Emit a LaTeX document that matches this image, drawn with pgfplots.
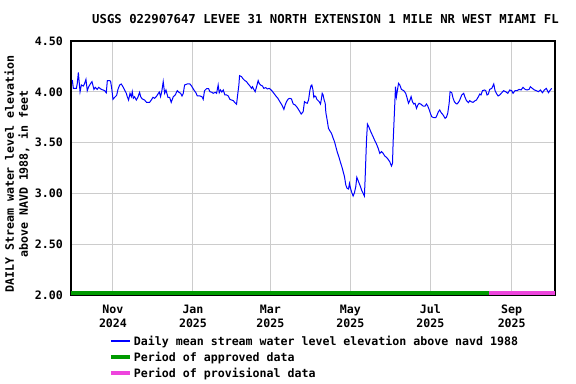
\documentclass[border=0pt]{standalone}
\usepackage{fontspec}
\setmainfont{DejaVu Sans Mono}
\usepackage{pgfplots}
\pgfplotsset{compat=1.18}
\definecolor{usgsgreen}{RGB}{0,154,0}
\definecolor{usgspink}{RGB}{238,68,221}
\definecolor{usgsblue}{RGB}{0,0,255}
\definecolor{gridgray}{RGB}{204,204,204}
\newcommand{\usgsfont}{\fontsize{11.6bp}{14bp}\selectfont\bfseries}
\newcommand{\titlefont}{\fontsize{12.3bp}{14bp}\selectfont\bfseries}
\pgfplotsset{
  barlegend/.style={legend image code/.code={\draw[##1, line width=4bp] (0bp,0bp) -- (19bp,0bp);}},
  linelegend/.style={legend image code/.code={\draw[##1, draw=usgsblue, line width=1.2bp] (0bp,0bp) -- (19bp,0bp);}},
}
\begin{document}
\begin{tikzpicture}
\path[use as bounding box] (0,0) rectangle (576bp,384bp);
\begin{axis}[
  at={(71bp,89bp)}, anchor=south west,
  scale only axis, width=484bp, height=254bp,
  xmin=-1, xmax=368, ymin=2, ymax=4.5,
  xtick={31,92,151,212,273,335},
  xticklabels={{Nov\\2024},{Jan\\2025},{Mar\\2025},{May\\2025},{Jul\\2025},{Sep\\2025}},
  ytick={2,2.5,3,3.5,4,4.5},
  /pgf/number format/fixed,
  /pgf/number format/fixed zerofill,
  /pgf/number format/precision=2,
  /pgf/number format/assume math mode=true,
  tick label style={font=\usgsfont, inner sep=0pt},
  xticklabel style={align=center, yshift=-9.75bp},
  yticklabel style={xshift=-8bp},
  major tick length=0pt,
  grid=major,
  grid style={gridgray, line width=1bp},
  axis line style={line width=1.2bp},
  legend cell align=left,
  legend style={at={(axis description cs:0.0785,-0.2441)}, anchor=west,
    draw=none, fill=none, inner sep=0pt, outer sep=0pt,
    row sep=7.5bp, column sep=2bp, font=\usgsfont,
    nodes={inner sep=0pt, text height=8.5bp, text depth=0pt}},
]
\addplot[color=usgsblue, line width=1bp, linelegend] coordinates {
(0,4.116) (0.8,4.034) (3.1,4.034) (3.8,4.083) (4.6,4.19) (5.9,4.00) (6.9,4.067)
(8.4,4.057) (9.4,4.083) (10.4,4.123) (11.4,4.011) (12.5,4.05) (14.0,4.083) (15.0,4.10)
(16.5,4.024) (17.5,4.044) (19.0,4.024) (20.1,4.044) (22.1,4.024) (23.4,4.018) (24.7,4.011)
(25.9,3.99) (26.7,4.11) (28.5,4.11) (29.2,4.103) (30.2,4.018) (31.0,3.926) (32.3,3.946)
(33.8,3.965) (34.8,4.024) (36.1,4.067) (37.3,4.077) (38.6,4.05) (39.9,4.018) (41.2,3.985)
(41.9,3.952) (42.9,3.919) (44.0,3.985) (45.0,3.952) (45.7,4.001) (46.5,3.936) (47.5,3.952)
(48.8,3.919) (50.0,3.946) (51.3,3.995) (52.1,3.952) (53.3,3.93) (55.1,3.919) (56.6,3.896)
(58.9,3.896) (60.2,3.919) (61.5,3.946) (62.7,3.936) (64.0,3.952) (65.3,3.978) (66.3,3.998)
(67.3,3.952) (68.3,4.011) (69.3,4.10) (70.4,3.985) (71.4,4.018) (72.9,3.946) (74.2,3.946)
(75.4,3.896) (77.0,3.952) (78.5,3.969) (80.0,4.011) (81.3,3.995) (82.6,3.985) (83.6,3.959)
(84.6,3.985) (85.6,4.067) (87.6,4.077)
(89.7,4.077) (90.9,4.057) (92.7,4.018) (94.2,3.991) (95.3,3.959) (97.3,3.959) (98.8,3.952)
(99.8,3.926) (100.8,4.011) (102.4,4.031) (103.9,4.031) (104.9,4.001) (106.4,3.995) (107.4,3.985)
(109.0,3.995) (110.0,3.985) (111.2,4.067) (112.0,3.991) (113.0,4.018) (114.0,3.998) (115.1,4.018)
(116.3,3.969) (117.6,3.969) (118.9,3.959) (120.1,3.926) (121.4,3.919) (122.7,3.913) (124.0,3.893)
(125.2,3.877) (126.2,3.985) (127.0,4.067) (127.5,4.159) (129.0,4.149) (130.3,4.126) (131.6,4.11)
(132.8,4.10) (134.1,4.077) (135.4,4.057) (136.7,4.034) (137.4,4.05) (138.4,4.024) (139.4,4.001)
(140.5,4.05) (141.7,4.11) (142.5,4.083) (143.5,4.067) (145.0,4.057) (146.0,4.034) (147.6,4.041)
(148.6,4.028) (150.1,4.034) (151.1,4.024) (152.1,4.011) (153.7,3.985) (155.2,3.959) (156.7,3.936)
(158.2,3.903) (159.8,3.87) (161.3,3.827) (162.3,3.87) (163.3,3.903) (164.6,3.929) (165.9,3.936)
(167.1,3.929) (168.4,3.88) (169.9,3.87) (171.4,3.847) (173.0,3.814) (174.5,3.781) (176.0,3.804)
(177.0,3.903) (178.0,3.893) (179.1,3.887) (180.1,3.919)
(181.1,4.011) (181.9,4.057) (182.6,4.067) (183.4,4.024) (184.1,3.946) (184.9,3.959) (185.7,3.952)
(186.4,3.926) (187.4,3.913) (188.2,3.903) (189.2,3.88) (190.0,3.936) (190.5,3.985) (191.2,3.969)
(192.0,3.919) (192.8,3.887) (193.3,3.795) (194.3,3.722) (195.3,3.64) (196.3,3.617) (197.6,3.591)
(198.9,3.542) (199.9,3.509) (200.9,3.46) (201.9,3.411) (203.2,3.361) (204.5,3.302) (205.5,3.263)
(206.5,3.214) (207.5,3.165) (208.5,3.083) (209.5,3.05) (210.6,3.043) (211.3,3.099) (212.1,3.05)
(213.1,3.007) (214.1,2.974) (215.1,3.007) (216.1,3.066) (216.9,3.158) (217.7,3.132) (218.7,3.099)
(219.7,3.066) (220.7,3.027) (221.7,3.001) (222.7,2.974) (223.3,3.165) (224.3,3.526) (225.0,3.683)
(226.0,3.657) (226.8,3.631) (228.1,3.591) (229.3,3.559) (230.6,3.519) (231.9,3.486) (233.2,3.444)
(234.4,3.394) (235.7,3.411) (237.0,3.394) (238.2,3.368) (239.5,3.355) (240.8,3.335) (242.0,3.312)
(243.3,3.27) (244.1,3.296) (244.6,3.509) (245.6,3.804) (246.4,4.05) (247.1,3.952) (247.9,4.018)
(248.7,4.083) (249.7,4.067)
(250.9,4.024) (252.7,4.011) (254.2,3.985) (255.3,3.936) (256.3,3.887) (257.3,3.913) (258.3,3.952)
(259.3,3.903) (260.3,3.88) (261.3,3.887) (262.4,3.837) (263.4,3.87) (264.4,3.887) (265.9,3.877)
(267.4,3.86) (269.0,3.86) (270.0,3.88) (271.0,3.86) (272.0,3.827) (273.0,3.788) (274.0,3.755)
(275.6,3.745) (277.1,3.745) (278.1,3.772) (279.1,3.804) (280.1,3.821) (281.2,3.795) (282.7,3.772)
(284.2,3.739) (285.2,3.749) (286.2,3.788) (287.3,3.887) (288.0,4.001) (289.3,3.991) (290.3,3.936)
(291.3,3.903) (292.3,3.887) (293.3,3.88) (294.4,3.896) (295.4,3.919) (296.9,3.969) (298.4,3.985)
(299.4,3.946) (300.5,3.913) (302.0,3.893) (303.0,3.913) (304.0,3.903) (305.5,3.896) (307.1,3.913)
(308.1,3.919) (309.6,3.952) (310.6,3.978) (311.6,3.969) (312.7,4.011) (314.2,4.018) (315.2,4.011)
(316.2,3.969) (317.2,3.978) (318.2,4.024) (319.8,4.034) (321.3,4.077) (322.3,4.011) (323.3,3.985)
(324.6,3.959) (325.9,3.969) (327.4,3.991) (328.9,4.011) (330.4,4.001) (332.0,3.985) (333.5,4.018)
(335.0,4.011) (336.0,3.985) (337.5,4.011) (339.1,4.011) (340.6,4.024) (342.1,4.018) (343.6,4.044)
(345.2,4.024) (346.7,4.018) (348.2,4.024) (349.2,4.05) (350.7,4.034) (352.3,4.018) (353.8,4.011)
(355.3,4.001) (356.9,4.018) (358.4,3.991) (359.9,4.018) (361.4,4.034) (363.0,3.991) (364.0,4.011)
(365.5,4.034)
};
\addlegendentry{Daily mean stream water level elevation above navd 1988}
\addplot[usgsgreen, line width=8bp, barlegend]
  coordinates {(-1,2) (317.5,2)};
\addlegendentry{Period of approved data}
\addplot[usgspink, line width=8bp, barlegend]
  coordinates {(317.5,2) (368,2)};
\addlegendentry{Period of provisional data}
\end{axis}
\node[font=\titlefont, inner sep=0pt] at (325.5bp,365bp)
  {USGS 022907647 LEVEE 31 NORTH EXTENSION 1 MILE NR WEST MIAMI FL};
\node[font=\usgsfont, rotate=90, align=center, inner sep=0pt] at (17bp,210bp)
  {DAILY Stream water level elevation\\above NAVD 1988, in feet};
\end{tikzpicture}
\end{document}
